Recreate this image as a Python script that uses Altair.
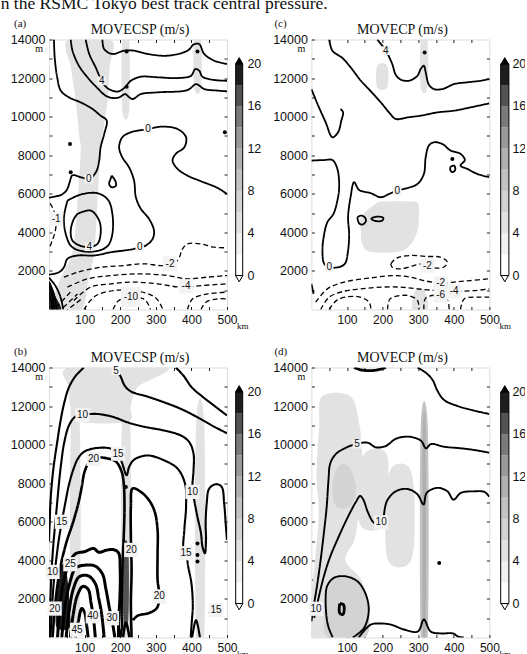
import altair as alt
import pandas as pd

# ------------------------------------------------------------------ text
CAPTION = "n the RSMC Tokyo best track central pressure."
TITLE_SP = "MOVECSP (m/s)"
TITLE_P = "MOVECP (m/s)"

# ------------------------------------------------------------------ colour bar
CBAR_EDGES = [0, 2, 4, 6, 8, 10, 12, 14, 16, 18, 20]
CBAR_GRAYS = ["#ffffff", "#f1f1f1", "#e2e2e2", "#d3d3d3", "#c2c2c2",
              "#afafaf", "#999999", "#7a7a7a", "#525252", "#1e1e1e"]
CBAR_LABELS = [0, 4, 8, 12, 16, 20]

# ------------------------------------------------------------------ axes
X_TICKS = [50, 100, 150, 200, 250, 300, 350, 400, 450, 500]
X_TOP_TICKS = [50, 100, 150, 200, 250, 300, 350, 400, 450]
Y_TICKS = [1000, 2000, 3000, 4000, 5000, 6000, 7000, 8000, 9000, 10000,
           11000, 12000, 13000, 14000]
Y_RIGHT_TICKS = [1000, 2000, 3000, 4000, 5000, 6000, 7000, 8000, 9000,
                 10000, 11000, 12000, 13000]

# ------------------------------------------------------------------ panel (a)
# contours: (level, [(km, m), ...])
A_LINES = [
    (12, [(150, 14000), (155, 13500), (178, 13250), (211, 13420), (239, 13420), (277, 13250),
          (333, 13160), (389, 13420), (408, 13760), (422, 13760), (436, 13250), (464, 12900), (500, 12730)]),
    (8, [(103, 14000), (113, 13250), (131, 12560), (148, 11860), (164, 11480), (192, 11300),
         (211, 11480), (230, 11860), (258, 12070), (305, 12040), (361, 12000), (399, 12120),
         (411, 12470), (422, 12380), (431, 12070), (464, 11900), (500, 11860)]),
    (4, [(61, 14000), (66, 13420), (84, 12640), (108, 12040), (136, 11480), (159, 11090),
         (178, 10970), (197, 11000), (214, 11170), (223, 11040), (235, 10910), (258, 11170),
         (305, 11260), (389, 11380), (413, 11690), (422, 11610), (436, 11430), (474, 11350), (500, 11310)]),
    (0, [(14, 14000), (16, 13070), (23, 12040), (33, 11350), (56, 11000), (89, 10740), (122, 10400),
         (145, 10050), (162, 9800), (155, 9100), (145, 8410), (141, 7720), (134, 7200), (122, 6890),
         (112, 6770), (89, 6860), (66, 6960), (58, 6600), (50, 6200), (35, 5950), (15, 5850), (0, 5800)]),
    (0, [(500, 5990), (474, 6300), (427, 6650), (389, 6940), (361, 7290), (347, 7720), (356, 8070),
         (380, 8410), (385, 8930), (361, 9360), (314, 9480), (281, 9360), (230, 9190), (206, 8930),
         (197, 8410), (206, 7890), (225, 7370), (239, 6680), (244, 5820), (258, 5220), (281, 4700),
         (295, 4090), (291, 3660), (272, 3320), (239, 3140), (174, 2970), (127, 2800), (80, 2800),
         (52, 2630), (42, 2190), (28, 1930), (0, 1810)]),
    (2, [(52, 5650), (89, 5960), (136, 6030), (166, 5680), (178, 4960), (178, 3920), (166, 3320),
         (141, 3060), (94, 3020), (63, 3270), (47, 3920), (42, 4780), (52, 5650)]),
    (4, [(80, 4960), (117, 5130), (141, 4610), (145, 3920), (136, 3400), (113, 3250), (89, 3300),
         (66, 3570), (61, 4090), (70, 4700), (80, 4960)]),
    (2, [(176, 6940), (186, 6680), (188, 6420), (176, 6340), (169, 6510), (173, 6770), (176, 6940)]),
    (-1, [(3, 5500), (12, 5200), (20, 4700), (18, 4100), (9, 3570), (2, 3230)]),
    (-2, [(42, 1680), (80, 1930), (145, 2190), (211, 2280), (267, 2370), (324, 2280), (361, 2540),
          (375, 3140), (389, 3400), (427, 3400), (464, 3230), (500, 3200)]),
    (-3, [(52, 1160), (108, 1590), (174, 1760), (258, 1850), (333, 1760), (389, 1590), (446, 1680), (500, 1760)]),
    (-4, [(70, 470), (117, 1160), (174, 1330), (239, 1420), (305, 1330), (371, 1160), (427, 1240), (500, 1330)]),
    (-6, [(98, 0), (130, 700), (190, 1000), (250, 950), (300, 600), (320, 0)]),
    (-10, [(180, 0), (195, 450), (230, 650), (270, 500), (285, 0)]),
    (-3, [(389, 0), (403, 550), (446, 810), (500, 900)]),
    (-5, [(427, 0), (441, 380), (474, 550), (500, 550)]),
    (-4, [(20, 100), (60, 900)]),
    (-4, [(40, 100), (80, 800)]),
    (-4, [(60, 100), (95, 600)]),
    (6, [(0, 1400), (12, 900), (22, 0)]),
    (8, [(0, 1160), (9, 730), (14, 0)]),
    (10, [(0, 810), (7, 380), (9, 0)]),
    (4, [(0, 1650), (19, 1200), (33, 600), (40, 0)]),
]
# shaded patches: (value, [(m, km_from, km_to), ...])
A_PATCHES = [
    (5, [(0, 10, 90), (1500, 30, 110), (3000, 66, 127), (5600, 80, 136), (8200, 89, 145),
         (9000, 85, 150), (10800, 75, 164), (12500, 62, 170), (14000, 52, 174)]),
    (5, [(10300, 206, 225), (14000, 206, 225)]),
    (5, [(11500, 408, 427), (14000, 408, 427)]),
    (18, [(0, 0, 34), (700, 0, 18), (1400, 0, 4)]),
]
A_LABELS = [("4", 148, 11860), ("0", 278, 9380), ("0", 112, 6770), ("4", 113, 3250),
            ("0", 255, 3230), ("-2", 340, 2380), ("-4", 385, 1200), ("-10", 230, 650), ("-1", 20, 4700)]
A_DOTS = [(218, 13380), (218, 11550), (417, 13380), (59, 8580), (61, 7120), (494, 9190)]

# ------------------------------------------------------------------ panel (c)
C_LINES = [
    (4, [(185, 14000), (209, 13420), (227, 12730), (237, 12170), (251, 11920), (274, 11860),
         (298, 12120), (307, 12470), (316, 12640), (321, 12300), (330, 11660), (344, 11430),
         (368, 11430), (401, 11690), (438, 11780), (475, 11860), (500, 11950)]),
    (2, [(50, 14000), (59, 13420), (87, 13040), (110, 12560), (139, 11860), (167, 11310),
         (195, 10740), (218, 10220), (237, 9880), (270, 9960), (307, 10050), (354, 10220),
         (401, 10310), (447, 10480), (500, 10690)]),
    (2, [(0, 11430), (17, 10660), (40, 9710), (59, 8930), (75, 9190), (84, 9790), (89, 10220), (82, 10400)]),
    (0, [(0, 7720), (36, 7750), (59, 7750), (73, 7290), (78, 6340), (73, 5650), (62, 4960), (45, 4530),
         (36, 3920), (31, 3060), (36, 2370), (50, 2190), (75, 2190), (94, 2370), (103, 3060),
         (106, 3920), (103, 4780), (110, 5820), (120, 6600), (134, 6200), (167, 6030), (195, 5820),
         (218, 5990), (241, 6170), (270, 6300), (298, 6510), (316, 7030), (321, 7890), (330, 8500),
         (344, 8670), (368, 8580), (391, 8240), (419, 8070), (431, 7750), (419, 7460), (438, 7290),
         (466, 7030), (500, 6860)]),
    (1, [(129, 4780), (139, 4870), (150, 4780), (153, 4580), (143, 4400), (134, 4470), (129, 4780)]),
    (1, [(169, 4750), (185, 4820), (202, 4750), (199, 4610), (183, 4580), (169, 4680), (169, 4750)]),
    (1, [(391, 7410), (401, 7460), (404, 7240), (396, 7120), (390, 7240), (391, 7410)]),
    (-2, [(223, 2370), (241, 2680), (279, 2800), (326, 2750), (363, 2710), (382, 2450), (371, 2190),
          (335, 2190), (316, 2370), (288, 2280), (251, 2110), (227, 2190), (223, 2370)]),
    (-2, [(12, 380), (45, 1070), (92, 1420), (167, 1640), (232, 1760), (279, 1680), (316, 1500),
          (363, 1360), (401, 1420), (447, 1500), (500, 1590)]),
    (-4, [(26, 0), (50, 640), (92, 950), (139, 1070), (195, 1160), (251, 1160), (298, 1070),
          (354, 980), (401, 950), (457, 980), (500, 1070)]),
    (-5, [(50, 0), (73, 500), (129, 670), (162, 380), (167, 0)]),
    (-5, [(214, 0), (221, 550), (270, 730), (298, 470), (302, 0)]),
    (-6, [(316, 0), (321, 590), (363, 730), (382, 500), (387, 0)]),
    (-5, [(419, 0), (429, 550), (475, 640), (500, 640)]),
    (2, [(0, 1330), (6, 810)]),
]
C_PATCHES = [
    (5, [(11520, 185, 213), (12640, 185, 213)]),
    (5, [(3000, 165, 245), (3400, 143, 280), (4100, 139, 298), (4800, 139, 302), (5470, 180, 300),
         (5600, 200, 280)]),
    (5, [(11520, 307, 326), (14000, 307, 326)]),
    (5, [(0, 284, 326), (980, 292, 318)]),
]
C_LABELS = [("4", 209, 13420), ("0", 50, 2190), ("0", 241, 6170), ("-2", 326, 2280),
            ("-2", 363, 1360), ("-4", 401, 950), ("-6", 363, 730)]
C_DOTS = [(318, 13330), (396, 7800)]

# ------------------------------------------------------------------ panel (b)
B_LINES = [
    (5, [(98, 14000), (75, 13570), (56, 12970), (42, 12110), (31, 11080), (22, 10000), (14, 9000),
         (8, 8000), (4, 7000), (2, 6000), (0, 5000)]),
    (5, [(183, 14000), (200, 13570), (213, 13050), (230, 12760), (277, 12490), (324, 12190),
         (371, 11850), (417, 11420), (464, 10930), (500, 10590)]),
    (5, [(356, 14000), (378, 13570), (401, 12970), (431, 12490), (464, 12020), (500, 11510)]),
    (10, [(1, 0), (2, 1000), (4, 2000), (6, 3000), (9, 4000), (13, 5000), (18, 6000), (23, 7000),
          (28, 8000), (34, 9000), (42, 10040), (56, 10990), (72, 11420), (94, 11540), (136, 11590),
          (183, 11420), (220, 11160), (267, 10930), (324, 10730), (371, 10470), (394, 10130),
          (406, 9530), (406, 8670), (403, 7810), (408, 7120), (417, 6260), (427, 5400), (431, 4710),
          (438, 4370), (441, 5060), (440, 5920), (443, 6950), (450, 7720), (469, 7950), (485, 7810),
          (492, 6950), (497, 5740), (500, 5060)]),
    (15, [(4, 0), (7, 1000), (10, 2000), (14, 3000), (20, 4000), (27, 5000), (36, 6000), (46, 7000),
          (57, 8000), (70, 8800), (82, 9300), (100, 9650), (136, 9830), (174, 9790), (194, 9530),
          (206, 9010), (218, 8410), (225, 8840), (239, 9220), (277, 9440), (324, 9180), (361, 8760),
          (382, 7980), (385, 6780), (380, 5570), (378, 4540), (385, 4370), (391, 3680), (400, 2820),
          (404, 1620), (401, 800), (398, 0)]),
    (20, [(10, 0), (14, 1000), (19, 2000), (26, 3000), (36, 4000), (50, 5000), (68, 6000), (83, 7000),
          (92, 7810), (100, 8600), (115, 9150), (135, 9330), (160, 9300), (188, 9120), (204, 8600),
          (210, 7980), (212, 6780), (210, 5230), (207, 4020), (205, 2650), (204, 1270), (205, 600), (200, 0)]),
    (20, [(232, 0), (230, 1790), (232, 3510), (230, 5230), (230, 6780), (235, 7730), (258, 7550),
          (281, 7120), (297, 6520), (305, 5570), (305, 4370), (305, 2990), (310, 2130), (303, 1530),
          (281, 1270), (249, 1130), (236, 900)]),
    (20, [(208, 0), (216, 780), (226, 0)]),
    (15, [(402, 0), (413, 900), (424, 0)]),
    (15, [(450, 1270), (464, 1480), (478, 1360), (483, 1100)]),
    (25, [(24, 0), (30, 1500), (42, 3000), (58, 3900), (75, 4350), (100, 4450), (125, 4620),
          (140, 4420), (160, 4520), (180, 4560), (195, 4400), (200, 3500), (199, 2000), (196, 1000), (195, 0)]),
    (30, [(36, 0), (44, 1500), (58, 2800), (75, 3600), (100, 3750), (130, 3700), (150, 3300),
          (160, 2500), (170, 1500), (178, 800), (185, 0)]),
    (35, [(48, 0), (56, 1300), (68, 2500), (85, 3150), (110, 3200), (130, 2800), (140, 2000),
          (148, 1200), (155, 0)]),
    (40, [(60, 0), (68, 1200), (80, 2200), (95, 2650), (110, 2500), (118, 1800), (125, 1000), (130, 0)]),
    (45, [(74, 0), (82, 800), (92, 1500), (100, 1300), (106, 600), (110, 0)]),
]
B_PATCHES = [
    (5, [(11200, 80, 220), (12000, 60, 230), (13000, 55, 250), (14000, 60, 330)]),
    (5, [(900, 62, 86), (11200, 62, 86)]),
    (5, [(0, 205, 228), (11200, 205, 228)]),
    (5, [(0, 413, 436), (11000, 413, 436)]),
    (19, [(500, 22, 58), (1500, 20, 58), (2500, 22, 55), (3300, 28, 50), (3800, 38, 46)]),
    (16, [(1000, 209, 223), (4600, 209, 223)]),
]
B_LABELS = [("5", 188, 13830), ("10", 94, 11540), ("10", 403, 7550), ("15", 194, 9530),
            ("20", 125, 9260), ("15", 385, 4370), ("20", 231, 4540), ("20", 310, 2130),
            ("15", 469, 1420), ("10", 10, 3400), ("15", 36, 6000), ("20", 16, 1500),
            ("25", 60, 3800), ("30", 177, 1000), ("40", 123, 1100), ("45", 79, 400)]
B_DOTS = [(216, 7810), (417, 4880), (417, 4280), (417, 3940)]

# ------------------------------------------------------------------ panel (d)
D_LINES = [
    (20, [(120, 14000), (144, 13860), (181, 13860), (209, 14000)]),
    (0, [(298, 14000), (322, 13720), (341, 13340), (353, 12830), (373, 12310), (411, 12000),
         (458, 11760), (500, 11590)]),
    (5, [(0, 840), (8, 1790), (17, 2830), (26, 4030), (35, 5410), (43, 6790), (48, 8170), (53, 9030),
         (69, 9520), (97, 9840), (125, 10030), (158, 10100), (181, 9860), (209, 9930), (238, 10310),
         (276, 10410), (308, 10200), (322, 9810), (336, 10030), (373, 9890), (420, 9810),
         (458, 9720), (500, 9580)]),
    (10, [(8, 1020), (19, 1960), (35, 3170), (53, 4200), (77, 5240), (103, 6270), (125, 7030),
          (137, 7340), (146, 7140), (158, 6530), (172, 6020), (188, 5760)]),
    (10, [(203, 6190), (212, 7070), (237, 7580), (270, 7700), (298, 7420), (315, 6900), (324, 7500),
          (354, 7760), (382, 7580), (399, 7150), (420, 7500), (458, 7580), (486, 7550), (500, 7300)]),
    (10, [(60, 0), (46, 670), (40, 2020), (45, 2700), (64, 3100), (97, 3170), (130, 2900),
          (153, 2230), (161, 1350), (147, 470), (116, 0)]),
    (15, [(80, 1760), (90, 1700), (92, 1400), (88, 1190), (80, 1250), (78, 1500), (80, 1760)]),
    (5, [(133, 0), (167, 670), (195, 725), (223, 670), (260, 415), (299, 310), (316, 930),
         (335, 310), (364, 210), (398, 210), (412, 50), (428, 0)]),
]
D_PATCHES = [
    (5, [(0, 0, 150), (2000, 0, 150), (3000, 5, 140), (4000, 10, 95), (5000, 15, 120), (6000, 20, 130),
         (7000, 20, 135), (8000, 15, 140), (9000, 15, 145), (10000, 18, 140), (11000, 22, 135),
         (12500, 30, 110)]),
    (5, [(5760, 140, 200), (7500, 129, 214), (9550, 150, 210)]),
    (5, [(4000, 215, 280), (7000, 210, 290), (8800, 225, 275)]),
    (7, [(6800, 70, 110), (7800, 59, 125), (8860, 75, 105)]),
    (7, [(0, 45, 150), (1500, 40, 160), (3000, 60, 130)]),
    (9, [(0, 307, 327), (10900, 307, 327)]),
    (11, [(0, 313, 321), (10500, 313, 321)]),
]
D_LABELS = [("5", 128, 10030), ("10", 196, 5980), ("10", 13, 1490)]
D_DOTS = [(359, 3860)]

# ------------------------------------------------------------------ styling
SANS = "Liberation Sans"
SERIF = "Liberation Serif"
BG = "#f3f3f3"
INK = "#111111"
W, H = 178, 270

XS = alt.Scale(domain=[0, 500], nice=False, zero=False)
YS = alt.Scale(domain=[0, 14000], nice=False, zero=False)
CS = alt.Scale(type="threshold", domain=CBAR_EDGES[1:-1], range=CBAR_GRAYS)
CBS = alt.Scale(domain=[-3.2, 22.3], nice=False, zero=False)


def w_ac(lvl):
    return 1.3 if lvl < 0 else 1.8


def w_b(lvl):
    return 3.0 if lvl >= 25 else (2.6 if lvl >= 20 else 2.1)


def w_d(lvl):
    return 2.8 if lvl >= 15 else 1.9


def lines_frame(lines, width_of):
    rows = []
    for i, (lvl, pts) in enumerate(lines):
        for j, (x, y) in enumerate(pts):
            rows.append({"id": i, "ord": j, "km": x, "m": y,
                         "dash": "dash" if lvl < 0 else "solid", "w": width_of(lvl)})
    return pd.DataFrame(rows)


def patches_frame(patches):
    # outline of each shaded patch: up its left edge, back down its right edge
    rows = []
    for i, (v, spans) in enumerate(patches):
        spans = sorted(spans)
        outline = [(x0, m) for (m, x0, x1) in spans] + [(x1, m) for (m, x0, x1) in reversed(spans)]
        for j, (x, m) in enumerate(outline):
            rows.append({"pid": i, "v": v, "ord": j, "km": x, "m": m})
    return pd.DataFrame(rows)


def note(text, x, y, dx, dy, size, font=SERIF, align="left", baseline="alphabetic"):
    return alt.Chart(pd.DataFrame({"t": [text]})).mark_text(
        font=font, fontSize=size, color=INK, align=align, baseline=baseline, dx=dx, dy=dy
    ).encode(x=alt.XDatum(x, axis=None, scale=XS),
             y=alt.YDatum(y, axis=None, scale=YS), text="t:N")


def make_cbar(x0, x1, lx):
    cb = pd.DataFrame({"lo": CBAR_EDGES[:-1], "hi": CBAR_EDGES[1:]})
    cb["v"] = (cb["lo"] + cb["hi"]) / 2
    boxes = alt.Chart(cb).mark_rect().encode(
        x=alt.value(x0), x2=alt.value(x1),
        y=alt.Y("lo:Q", scale=CBS, axis=None), y2="hi:Q",
        color=alt.Color("v:Q", scale=CS, legend=None))
    frame = alt.Chart(pd.DataFrame({"lo": [CBAR_EDGES[0]], "hi": [CBAR_EDGES[-1]]})).mark_rect(
        fillOpacity=0, stroke="black", strokeWidth=1).encode(
        x=alt.value(x0), x2=alt.value(x1),
        y=alt.Y("lo:Q", scale=CBS, axis=None), y2="hi:Q")
    cx = (x0 + x1) / 2
    up = alt.Chart(pd.DataFrame({"v": [CBAR_EDGES[-1] + 0.29]})).mark_point(
        shape="triangle-up", size=52, filled=True, fill="black", stroke="black", strokeWidth=1,
        opacity=1).encode(x=alt.value(cx), y=alt.Y("v:Q", scale=CBS, axis=None))
    down = alt.Chart(pd.DataFrame({"v": [CBAR_EDGES[0] - 0.29]})).mark_point(
        shape="triangle-down", size=52, filled=True, fill="white", stroke="black", strokeWidth=1,
        opacity=1).encode(x=alt.value(cx), y=alt.Y("v:Q", scale=CBS, axis=None))
    labels = alt.Chart(pd.DataFrame({"v": CBAR_LABELS})).mark_text(
        align="left", baseline="middle", font=SANS, fontSize=12.5, color=INK).encode(
        x=alt.value(lx), y=alt.Y("v:Q", scale=CBS, axis=None), text="v:Q")
    return alt.layer(boxes, frame, up, down, labels)


def make_panel(lines, patches, labels, dots, title, tag, width_of, cbx, tag_dx, caption=False):
    ldf = lines_frame(lines, width_of)
    pdf = patches_frame(patches)
    lab = pd.DataFrame([{"t": t, "km": x, "m": y, "sz": (5.6 * len(t) + 3) ** 2}
                        for (t, x, y) in labels])
    ddf = pd.DataFrame([{"km": x, "m": y} for (x, y) in dots])

    shade = alt.Chart(pdf).mark_line(
        filled=True, interpolate="cardinal-closed", clip=True, strokeWidth=0, opacity=1).encode(
        x=alt.X("km:Q", scale=XS, axis=None),
        y=alt.Y("m:Q", scale=YS, axis=None),
        detail="pid:N", order="ord:Q",
        color=alt.Color("v:Q", scale=CS, legend=None))

    contour = alt.Chart(ldf).mark_line(
        interpolate="catmull-rom", color="black", clip=True, strokeJoin="round").encode(
        x=alt.X("km:Q", scale=XS, axis=alt.Axis(
            orient="bottom", values=X_TICKS, labelExpr="datum.value % 100 === 0 ? datum.value : ''",
            offset=-3, tickSize=3, domain=False, grid=False, title=None, labelPadding=5,
            labelFlush=False, labelFont=SANS, labelFontSize=12, labelColor=INK, tickColor="#222")),
        y=alt.Y("m:Q", scale=YS, axis=alt.Axis(
            orient="left", values=Y_TICKS, labelExpr="datum.value % 2000 === 0 ? datum.value : ''",
            offset=-3, tickSize=3, domain=False, grid=False, title=None, labelPadding=4,
            labelFlush=False, labelFont=SANS, labelFontSize=12.5, labelColor=INK, tickColor="#222")),
        detail="id:N", order="ord:Q",
        strokeDash=alt.StrokeDash("dash:N", scale=alt.Scale(domain=["solid", "dash"],
                                                            range=[[1, 0], [5, 3]]), legend=None),
        strokeWidth=alt.StrokeWidth("w:Q", scale=None))

    ticks = alt.Chart(pd.DataFrame({"km": [0], "m": [0]})).mark_point(opacity=0).encode(
        x=alt.X("km:Q", scale=XS, axis=alt.Axis(
            orient="top", values=X_TOP_TICKS, labels=False, offset=-3, tickSize=3, domain=False,
            grid=False, title=None, tickColor="#222")),
        y=alt.Y("m:Q", scale=YS, axis=alt.Axis(
            orient="right", values=Y_RIGHT_TICKS, labels=False, offset=-3, tickSize=3, domain=False,
            grid=False, title=None, tickColor="#222")))

    lab_bg = alt.Chart(lab).mark_point(shape="square", filled=True, color=BG, opacity=1).encode(
        x=alt.X("km:Q", scale=XS, axis=None), y=alt.Y("m:Q", scale=YS, axis=None),
        size=alt.Size("sz:Q", scale=None))
    lab_tx = alt.Chart(lab).mark_text(font=SANS, fontSize=10, color=INK, baseline="middle").encode(
        x=alt.X("km:Q", scale=XS, axis=None), y=alt.Y("m:Q", scale=YS, axis=None), text="t:N")
    dot = alt.Chart(ddf).mark_circle(color="black", size=16, opacity=1).encode(
        x=alt.X("km:Q", scale=XS, axis=None), y=alt.Y("m:Q", scale=YS, axis=None))

    notes = [
        note(title, 250, 14000, 2, -6, 14, align="center"),
        note(tag, 0, 14000, tag_dx, -13, 11),
        note("m", 0, 13490, -6, 0, 10, align="right", baseline="middle"),
        note("km", 500, 0, 10, 19, 9),
    ]
    if caption:
        notes.append(note(CAPTION, 0, 14000, -48.3, -30.2, 17.5))

    main = alt.layer(shade, contour, ticks, lab_bg, lab_tx, dot, *notes)
    cbar = make_cbar(*cbx)
    return alt.layer(main, cbar).resolve_scale(y="independent").properties(width=W, height=H)


CB_LEFT = (186.7, 193.7, 198.4)
CB_RIGHT = (189.3, 197.5, 201.0)

pa = make_panel(A_LINES, A_PATCHES, A_LABELS, A_DOTS, TITLE_SP, "(a)", w_ac, CB_LEFT, -35, caption=True)
pc = make_panel(C_LINES, C_PATCHES, C_LABELS, C_DOTS, TITLE_P, "(c)", w_ac, CB_RIGHT, -37)
pb = make_panel(B_LINES, B_PATCHES, B_LABELS, B_DOTS, TITLE_SP, "(b)", w_b, CB_LEFT, -35)
pdd = make_panel(D_LINES, D_PATCHES, D_LABELS, D_DOTS, TITLE_P, "(d)", w_d, CB_RIGHT, -37)

chart = alt.concat(
    pa, pc, pb, pdd, columns=2, spacing={"row": 58, "column": 84.4}, bounds="flush"
).properties(
    padding={"left": 0, "top": -5.5, "right": -2, "bottom": -4}
).configure_view(
    fill=BG, stroke=INK, strokeWidth=1.2
).configure(background="white")

chart.save("out.html", embed_options={"renderer": "svg", "actions": False})
